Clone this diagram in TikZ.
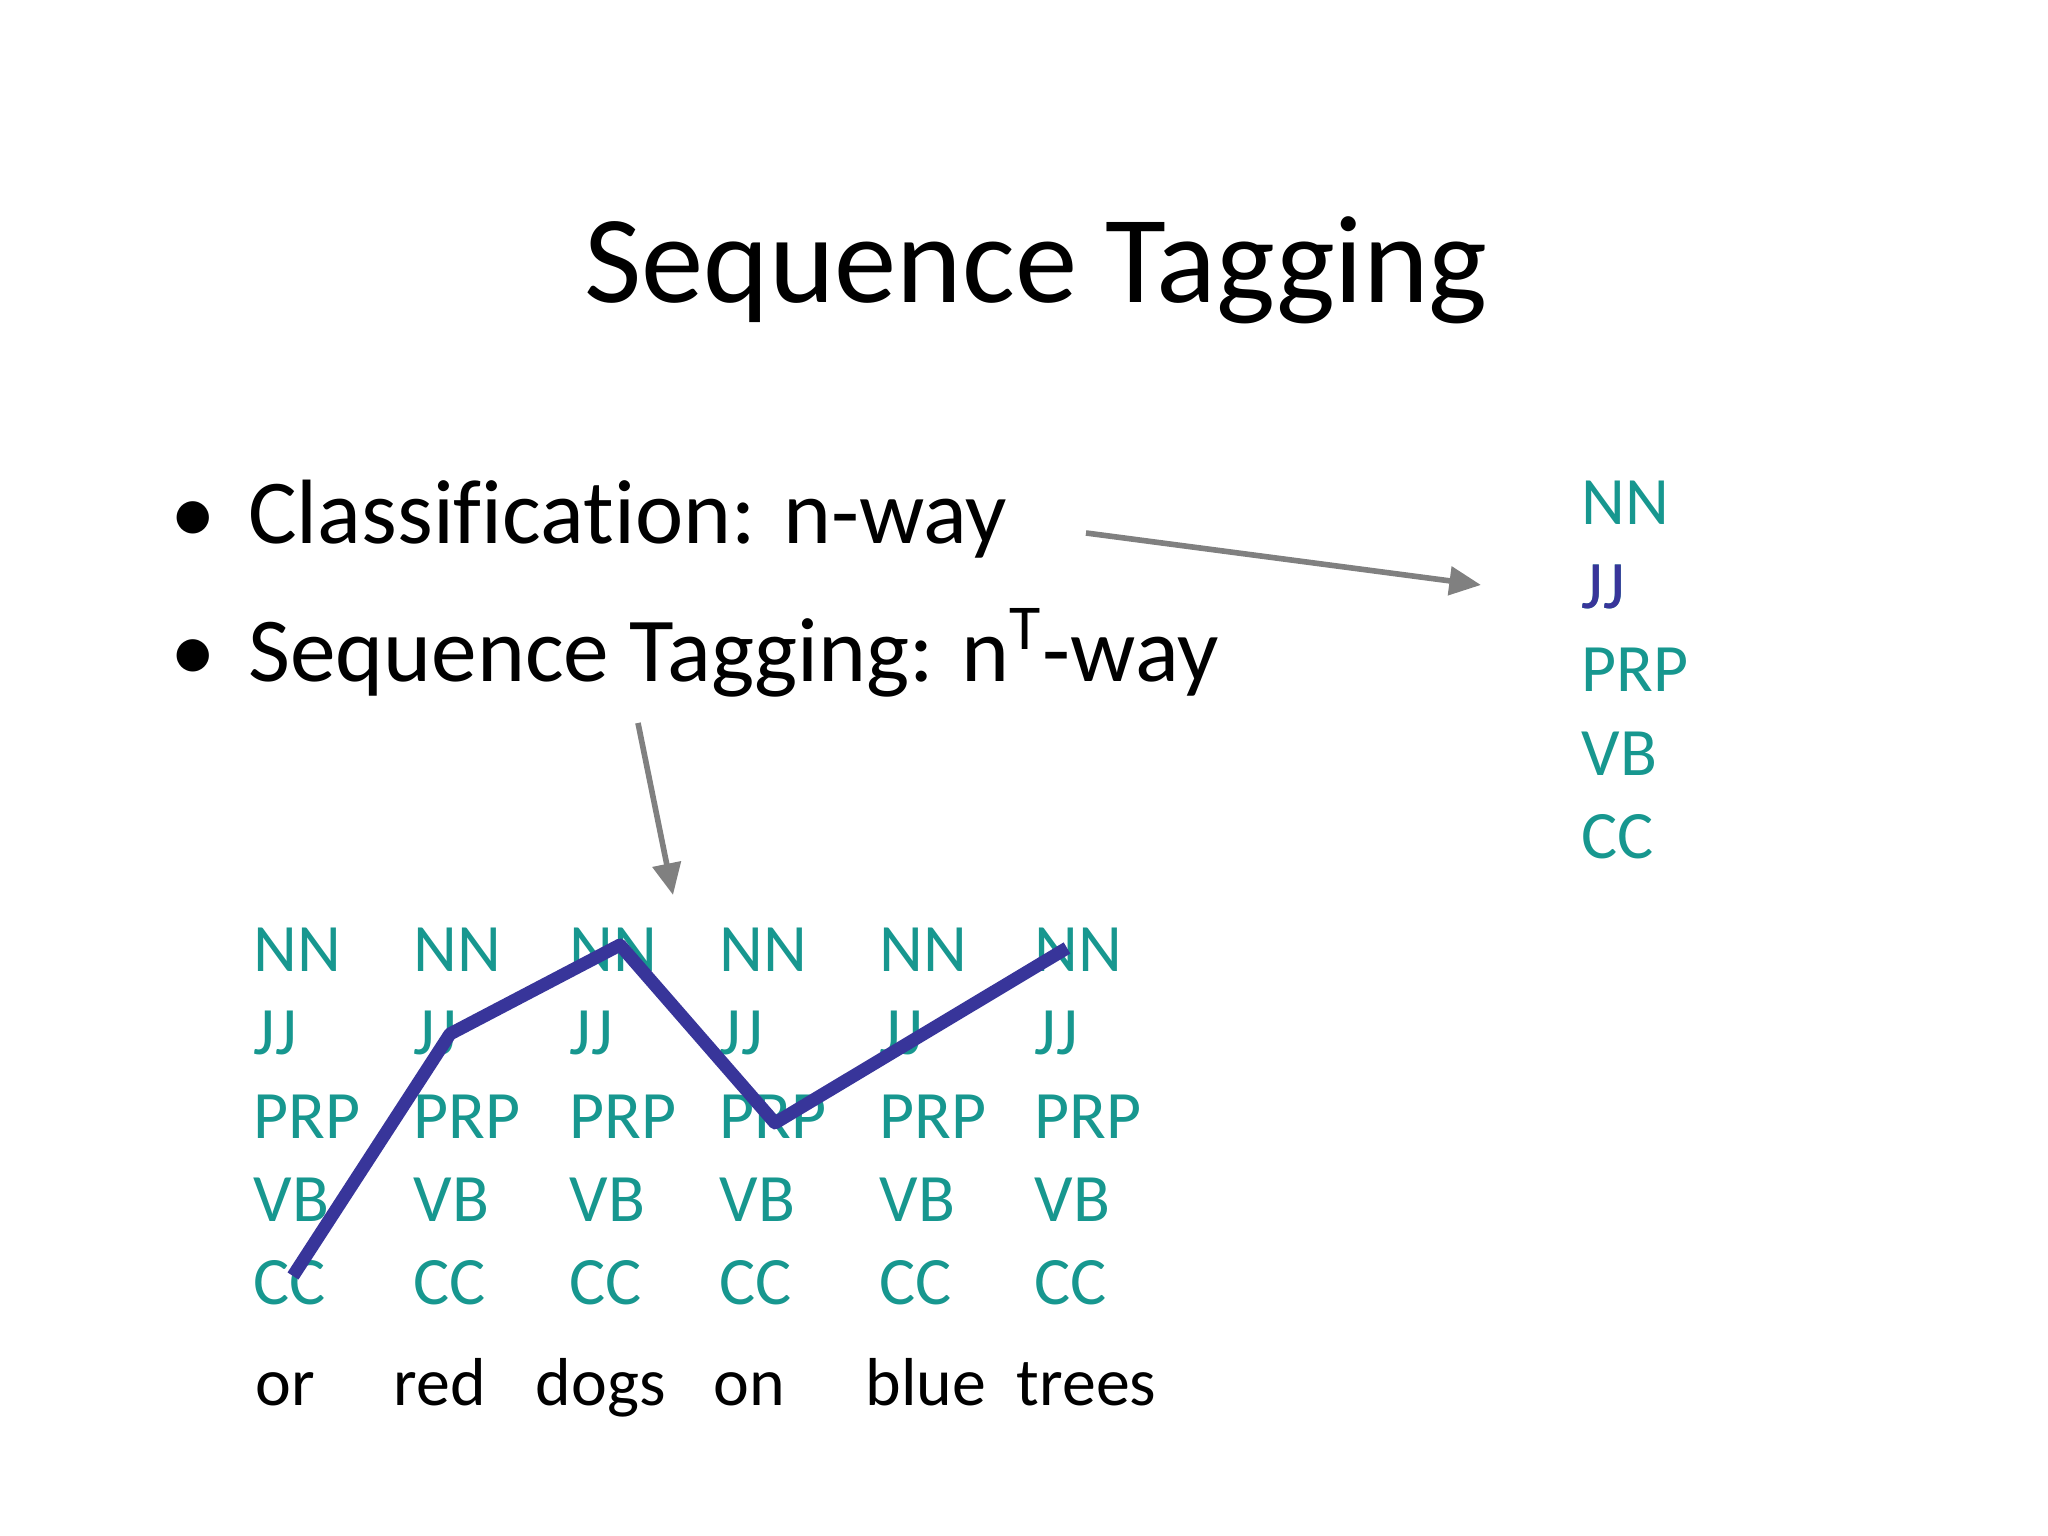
\documentclass[tikz,border=0pt]{standalone}
\usepackage{fontspec}
\setmainfont[Ligatures=NoCommon]{Carlito}
\usetikzlibrary{arrows.meta}
\definecolor{tagteal}{HTML}{17978F}
\definecolor{pathblue}{HTML}{38359A}
\tikzset{
  tag/.style={anchor=west,inner sep=0pt,text=tagteal,font=\fontsize{19.3}{19.3}\selectfont},
  word/.style={anchor=base west,inner sep=0pt,font=\fontsize{19.3}{19.3}\selectfont},
  bullet/.style={anchor=west,inner sep=0pt,font=\fontsize{26}{26}\selectfont},
  pointer/.style={draw=gray,line width=1.6pt,-{Triangle[length=9pt,width=8pt]}}
}
\begin{document}
\begin{tikzpicture}
    \useasboundingbox (0,0) rectangle (20.48,15.36);
    \node (title) [inner sep=0pt,font=\fontsize{35.5}{35.5}\selectfont] at (10.36,12.66) {Sequence Tagging};
    \node (b1) [bullet] at (1.70,10.17) {\textbullet\hspace{0.35em}Classification: n-way};
    \node (b2) [bullet] at (1.70,8.83) {\textbullet\hspace{0.35em}Sequence Tagging: n\textsuperscript{T}-way};
    % right column
    \foreach \t [count=\i] in {NN,JJ,PRP,VB,CC}
      \node (r\i) [tag] at (15.81,10.33-0.835*\i+0.835) {\t};
    \node [tag,text=pathblue] at (r2.west) {JJ};
    % grid of tags
    \foreach \x [count=\c] in {2.53,4.13,5.69,7.19,8.79,10.34} {
      \foreach \t [count=\i] in {NN,JJ,PRP,VB,CC}
        \node (t\c\i) [tag] at (\x,5.86-0.833*\i+0.833) {\t};
    }
    \foreach \w/\x [count=\c] in {or/2.55,red/3.93,dogs/5.35,on/7.13,blue/8.65,trees/10.16}
      \node (w\c) [word] at (\x,1.30) {\w};
    % best path
    \coordinate (p1) at (2.93,2.60);
    \coordinate (p2) at (4.50,5.02);
    \coordinate (p3) at (6.20,5.91);
    \coordinate (p4) at (7.75,4.13);
    \coordinate (p5) at (10.67,5.88);
    \draw [pathblue,line width=3.7pt,line join=round] (p1) -- (p2) -- (p3) -- (p4) -- (p5);
    % arrows
    \coordinate (a1) at (10.86,10.03);
    \coordinate (a2) at (14.81,9.51);
    \coordinate (a3) at (6.38,8.13);
    \coordinate (a4) at (6.73,6.41);
    \draw [pointer] (a1) -- (a2);
    \draw [pointer] (a3) -- (a4);
\end{tikzpicture}
\end{document}
